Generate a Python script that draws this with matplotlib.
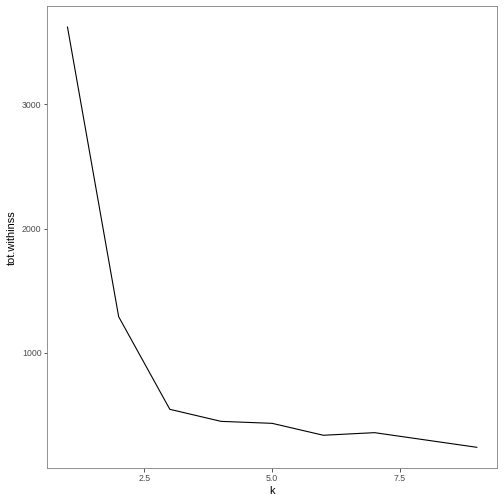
import matplotlib
matplotlib.use('Agg')
import matplotlib.pyplot as plt

# elbow data
k = [1, 2, 3, 4, 5, 6, 7, 8, 9]
tot_withinss = [3623, 1290, 544, 447, 431, 335, 356, 297, 238]
xticks = [2.5, 5.0, 7.5]
xtick_labels = ['2.5', '5.0', '7.5']
yticks = [1000, 2000, 3000]

plt.rcParams['font.family'] = ['Liberation Sans', 'DejaVu Sans']

fig = plt.figure(figsize=(7, 7), dpi=72)
ax = fig.add_axes([0.0933, 0.0708, 0.8934, 0.9172])

ax.plot(k, tot_withinss, color='black', linewidth=1.1)

rng = max(tot_withinss) - min(tot_withinss)
ax.set_ylim(min(tot_withinss) - 0.05 * rng, max(tot_withinss) + 0.05 * rng)
ax.set_xlim(0.6, 9.4)

ax.set_xticks(xticks)
ax.set_xticklabels(xtick_labels)
ax.set_yticks(yticks)
ax.tick_params(length=3.5, width=0.8, color='#333333', labelcolor='#4d4d4d',
               labelsize=8.8, pad=2)

for s in ax.spines.values():
    s.set_color('#888888')
    s.set_linewidth(0.9)

ax.set_xlabel('k', fontsize=11, labelpad=3)
ax.set_ylabel('tot.withinss', fontsize=11, labelpad=5)

fig.savefig('out.png', dpi=72)
